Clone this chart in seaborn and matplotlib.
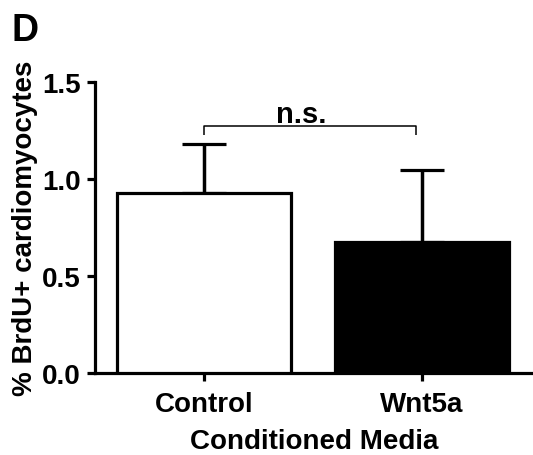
import matplotlib
matplotlib.use("Agg")
import matplotlib.pyplot as plt
import seaborn as sns
import pandas as pd

# Group means and upper SEM bars (% BrdU+ cardiomyocytes)
conditions = ["Control", "Wnt5a"]
means = [0.93, 0.675]
sems = [0.25, 0.37]
bar_colors = ["white", "black"]
y_ticks = [0.0, 0.5, 1.0, 1.5]
y_tick_labels = ["0.0", "0.5", "1.0", "1.5"]

sns.set_style("ticks")
plt.rcParams["font.family"] = ["Liberation Sans", "DejaVu Sans"]
plt.rcParams["font.weight"] = "bold"
for key in ("text.color", "axes.labelcolor", "xtick.color", "ytick.color",
            "axes.edgecolor"):
    plt.rcParams[key] = "black"

df = pd.DataFrame({"Conditioned Media": conditions, "value": means})

fig = plt.figure(figsize=(5.33, 4.56), dpi=100)
ax = fig.add_axes([95 / 533, 1 - 374 / 456, (533 - 95) / 533, (374 - 83) / 456])

lw = 2.3
sns.barplot(data=df, x="Conditioned Media", y="value", hue="Conditioned Media",
            palette=bar_colors, edgecolor="black", linewidth=lw, width=0.8,
            errorbar=None, legend=False, ax=ax, zorder=3)

# one-sided (upper) error bars
xpos = list(range(len(conditions)))
ax.errorbar(xpos, means, yerr=[[0] * len(sems), sems], fmt="none",
            ecolor="black", elinewidth=lw + 0.2, capsize=15.5, capthick=lw,
            zorder=2)

# significance bracket
bx0, bx1, by, bh = 0.0, 0.972, 1.273, 0.046
ax.plot([bx0, bx0, bx1, bx1], [by - bh, by, by, by - bh], color="black",
        lw=1.1, solid_capstyle="butt", zorder=4)
ax.text(0.446, 1.294, "n.s.", ha="center", va="baseline", fontsize=21,
        fontweight="bold", color="black")

ax.set_xlim(-0.503, 1.51)
ax.set_ylim(0, 1.5)
ax.set_yticks(y_ticks)
ax.set_yticklabels(y_tick_labels)

sns.despine(ax=ax)
for side in ("left", "bottom"):
    ax.spines[side].set_linewidth(lw)
    ax.spines[side].set_color("black")

ax.tick_params(axis="both", which="major", length=6, width=lw, color="black",
               labelcolor="black", labelsize=20)
ax.tick_params(axis="y", pad=4)
ax.tick_params(axis="x", pad=7)
for lab in ax.get_xticklabels() + ax.get_yticklabels():
    lab.set_fontweight("bold")

ax.set_xlabel("Conditioned Media", fontsize=20, fontweight="bold", labelpad=8,
              color="black")
ax.set_ylabel("% BrdU+ cardiomyocytes", fontsize=20, fontweight="bold",
              labelpad=3, color="black")

fig.text(12 / 533, 1 - 41 / 456, "D", fontsize=27, fontweight="bold",
         ha="left", va="baseline", color="black")

fig.savefig("out.png", dpi=100, facecolor="white")
